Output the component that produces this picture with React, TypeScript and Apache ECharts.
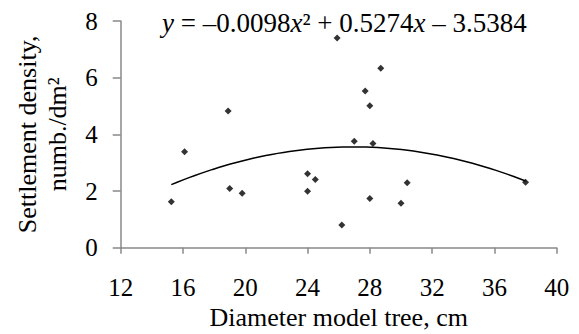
import React, { useEffect, useRef } from "react";
import * as echarts from "echarts";

const diameters = [25.9, 28.7, 27.7, 28.0, 18.9, 16.1, 27.0, 28.2, 24.0, 24.5, 30.4, 38.0, 19.0, 19.8, 24.0, 15.25, 28.0, 30.0, 26.2];
const densities = [7.4, 6.33, 5.53, 5.01, 4.82, 3.39, 3.76, 3.68, 2.61, 2.41, 2.29, 2.31, 2.09, 1.92, 1.99, 1.62, 1.74, 1.57, 0.8];
// Trend-line coefficients as printed on the chart: y = a x^2 + b x + c
const trendCoef = [-0.0098, 0.5274, -3.5384];
const xTicks = [12, 40, 4];
const yTicks = [0, 8, 2];

const FONT = "'Liberation Serif', serif";

export default function App() {
  const ref = useRef<HTMLDivElement>(null);
  useEffect(() => {
    if (!ref.current) return;
    const chart = echarts.init(ref.current, null, { renderer: "svg" });
    const pts = diameters.map((d, i) => [d, densities[i]]);
    const xmin = Math.min(...diameters);
    const xmax = Math.max(...diameters);
    const trend: number[][] = [];
    const steps = 60;
    for (let i = 0; i <= steps; i++) {
      const x = xmin + ((xmax - xmin) * i) / steps;
      trend.push([x, trendCoef[0] * x * x + trendCoef[1] * x + trendCoef[2]]);
    }
    const axisColor = "#898989";
    chart.setOption({
      animation: false,
      textStyle: { fontFamily: FONT, color: "#000" },
      grid: {
        left: 120.7,
        right: 22.3,
        top: 21,
        bottom: 86.3,
        containLabel: false,
        outerBoundsMode: "none",
      },
      title: {
        text: "{i|y} = –0.0098{i|x}² + 0.5274{i|x} – 3.5384",
        left: 157,
        top: 4,
        textStyle: {
          fontFamily: FONT,
          fontSize: 27,
          fontWeight: "normal",
          color: "#000",
          rich: {
            i: { fontFamily: FONT, fontSize: 27, fontStyle: "italic", color: "#000" },
          },
        },
      },
      xAxis: {
        type: "value",
        min: xTicks[0],
        max: xTicks[1],
        interval: xTicks[2],
        name: "Diameter model tree, cm",
        nameLocation: "middle",
        nameGap: 57,
        nameTextStyle: { fontFamily: FONT, fontSize: 26, color: "#000" },
        axisLine: { show: true, onZero: false, lineStyle: { color: axisColor, width: 1.5 } },
        axisTick: { show: true, length: 6, lineStyle: { color: axisColor, width: 1.5 } },
        axisLabel: { fontFamily: FONT, fontSize: 25, color: "#000", margin: 27 },
        splitLine: { show: false },
      },
      yAxis: {
        type: "value",
        min: yTicks[0],
        max: yTicks[1],
        interval: yTicks[2],
        name: "Settlement density,\nnumb./dm²",
        nameLocation: "middle",
        nameRotate: 90,
        nameGap: 48,
        nameTextStyle: { fontFamily: FONT, fontSize: 26, color: "#000", lineHeight: 30 },
        axisLine: { show: true, lineStyle: { color: axisColor, width: 1.5 } },
        axisTick: { show: true, length: 8, lineStyle: { color: axisColor, width: 1.5 } },
        axisLabel: { fontFamily: FONT, fontSize: 25, color: "#000", margin: 23 },
        splitLine: { show: false },
      },
      series: [
        {
          type: "line",
          data: trend,
          showSymbol: false,
          symbol: "none",
          lineStyle: { color: "#000", width: 1.5 },
          z: 2,
        },
        {
          type: "scatter",
          data: pts,
          symbol: "diamond",
          symbolSize: 7,
          itemStyle: { color: "#000" },
          z: 3,
        },
      ],
    });
    return () => chart.dispose();
  }, []);
  return (
    <>
      <style>{`.chart-host svg text { font-family: 'Liberation Serif', serif !important; }`}</style>
      <div
        ref={ref}
        className="chart-host"
        style={{ position: "fixed", left: 0, top: 0, width: 579, height: 334, background: "#fff" }}
      />
    </>
  );
}
